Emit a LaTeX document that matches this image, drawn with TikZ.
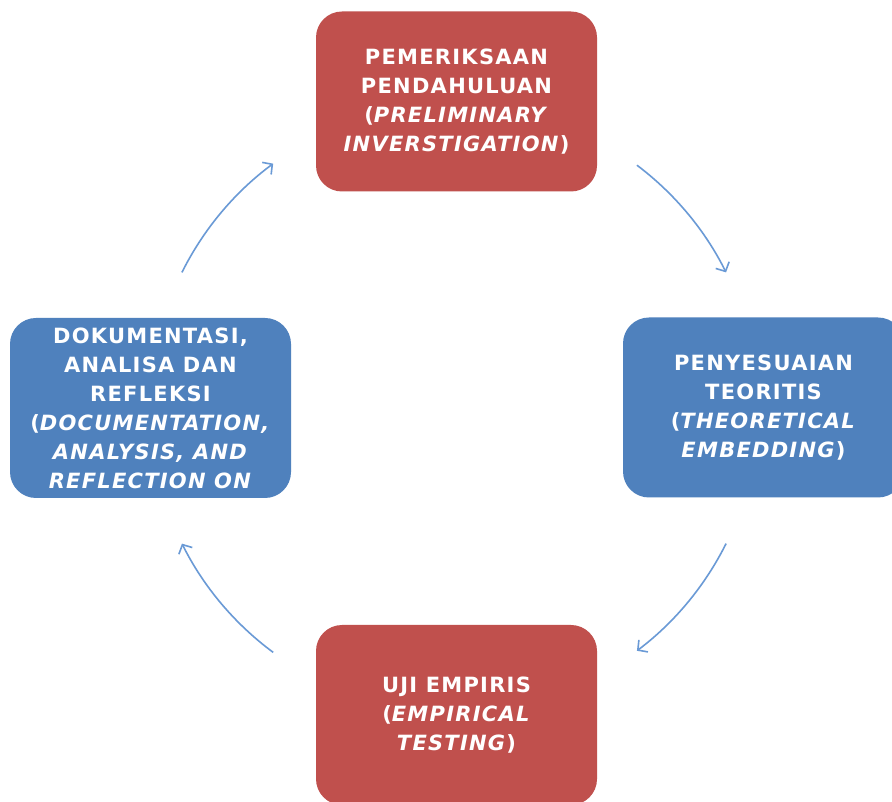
\documentclass[tikz,border=0pt]{standalone}
\usepackage{fontspec}
\setmainfont{DejaVu Sans}[LetterSpace=6]
\usetikzlibrary{arrows.meta,calc}
\definecolor{boxred}{HTML}{C0504D}
\definecolor{boxblue}{HTML}{4F81BD}
\definecolor{arrowblue}{HTML}{6A9AD6}
\begin{document}
\begin{tikzpicture}[x=1pt,y=1pt,
  stagebox/.style={rounded corners=26pt, minimum width=281pt, minimum height=180pt,
    text=white, font=\bfseries\fontsize{21}{29}\selectfont, align=center, inner sep=0pt},
  arrowline/.style={draw=arrowblue, line width=1.6pt, -{Straight Barb[length=7pt,width=15pt]}}]
\useasboundingbox (0,0) rectangle (892,801);
\fill[white] (0,0) rectangle (892,801);
\node[stagebox, fill=boxred] (pre) at (456.5,699.5)
  {PEMERIKSAAN\\PENDAHULUAN\\(\textit{PRELIMINARY}\\\textit{INVERSTIGATION})};
\node[stagebox, fill=boxblue] (teo) at (763.5,393.5)
  {PENYESUAIAN\\TEORITIS\\(\textit{THEORETICAL}\\\textit{EMBEDDING})};
\node[stagebox, fill=boxred] (uji) at (456.5,86)
  {UJI EMPIRIS\\(\textit{EMPIRICAL}\\\textit{TESTING})};
\node[stagebox, fill=boxblue] (dok) at (150.5,393)
  {DOKUMENTASI,\\ANALISA DAN\\REFLEKSI\\(\textit{DOCUMENTATION,}\\\textit{ANALYSIS, AND}\\\textit{REFLECTION ON}};
\coordinate (ctr) at (454,393);
\coordinate (s1) at ($(ctr)+(153.5:304)$);
\coordinate (s2) at ($(ctr)+(53:304)$);
\coordinate (s3) at ($(ctr)+(-26.5:304)$);
\coordinate (s4) at ($(ctr)+(-126.5:304)$);
\draw[arrowline] (s1) arc[start angle=153.5, end angle=126.5, radius=304];
\draw[arrowline] (s2) arc[start angle=53, end angle=26.5, radius=304];
\draw[arrowline] (s3) arc[start angle=-26.5, end angle=-53, radius=304];
\draw[arrowline] (s4) arc[start angle=-126.5, end angle=-153.5, radius=304];
\end{tikzpicture}
\end{document}
